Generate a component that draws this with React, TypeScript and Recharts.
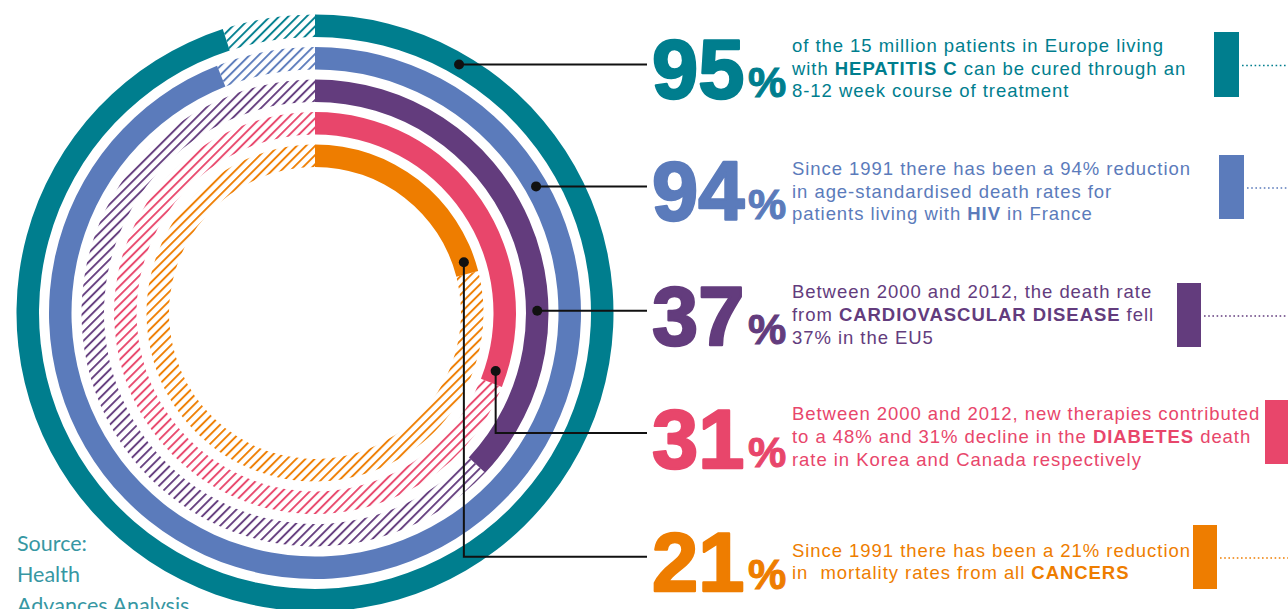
import { RadialBarChart, RadialBar, PolarAngleAxis, PolarRadiusAxis, Cell } from 'recharts';

// rings, inner to outer
const categories = ['CANCERS', 'DIABETES', 'CARDIOVASCULAR DISEASE', 'HIV', 'HEPATITIS C'];
const percents = [21, 31, 37, 94, 95];
const colors = ['#EE7D00', '#E8466B', '#633C7D', '#5B7BBB', '#007E8E'];

// text blocks, top to bottom (ring index each refers to)
const blockRing = [4, 3, 2, 1, 0];
const blockLines = [
  ['of the 15 million patients in Europe living', 'with **HEPATITIS C** can be cured through an', '8-12 week course of treatment'],
  ['Since 1991 there has been a 94% reduction', 'in age-standardised death rates for', 'patients living with **HIV** in France'],
  ['Between 2000 and 2012, the death rate', 'from **CARDIOVASCULAR DISEASE** fell', '37% in the EU5'],
  ['Between 2000 and 2012, new therapies contributed', 'to a 48% and 31% decline in the **DIABETES** death', 'rate in Korea and Canada respectively'],
  ['Since 1991 there has been a 21% reduction', 'in  mortality rates from all **CANCERS**'],
];
const sourceLines = ['Source:', 'Health', 'Advances Analysis'];

const data = categories.map((name, i) => ({ name, value: percents[i], rest: 100 - percents[i] }));

const CX = 315;
const CY = 313;
const INNER = 141;
const BAND = 32.5;
const BAR = 22.5;

// layout of annotation rows
const numBase = [98.3, 220, 345, 468, 590.7];
const textBase = [
  [52.3, 74.5, 96.7],
  [175, 197.5, 220],
  [298, 321, 343.5],
  [420, 443, 466],
  [556.7, 579.3],
];
const dotAngle = [30.1, 60.2, 89.4, 107.8, 71.2];
const leaderY = [65, 186, 310.7, 433, 556.7];
const rects = [
  { x: 1214, y: 32, w: 25, h: 65 },
  { x: 1219, y: 155, w: 25, h: 64 },
  { x: 1177, y: 283, w: 24, h: 64 },
  { x: 1265, y: 400, w: 24, h: 64 },
  { x: 1193, y: 525, w: 24, h: 64 },
];

const FONT = '"Liberation Sans", Arial, sans-serif';

function renderLine(line: string) {
  const parts = line.split('**');
  return parts.map((p, i) => (
    <tspan key={i} fontWeight={i % 2 === 1 ? 700 : 400}>
      {p}
    </tspan>
  ));
}

export default function App() {
  return (
    <div style={{ position: 'absolute', left: 0, top: 0, width: 1288, height: 609, overflow: 'hidden', background: '#fff' }}>
      <svg width={0} height={0} style={{ position: 'absolute' }}>
        <defs>
          {colors.map((c, i) => (
            <pattern key={i} id={`hatch-${i}`} patternUnits="userSpaceOnUse" width={6.5} height={6.5} patternTransform="rotate(45)">
              <line x1={1} y1={0} x2={1} y2={6.5} stroke={c} strokeWidth={1.9} />
            </pattern>
          ))}
        </defs>
      </svg>
      <RadialBarChart
        width={1288}
        height={609}
        cx={CX}
        cy={CY}
        innerRadius={INNER}
        outerRadius={INNER + BAND * categories.length}
        startAngle={90}
        endAngle={-270}
        data={data}
        barSize={BAR}
        margin={{ top: 0, right: 0, bottom: 0, left: 0 }}
      >
        <PolarAngleAxis type="number" domain={[0, 100]} tick={false} axisLine={false} />
        <PolarRadiusAxis type="category" dataKey="name" tick={false} axisLine={false} />
        <RadialBar dataKey="value" stackId="a" isAnimationActive={false} stroke="none">
          {data.map((d, i) => (
            <Cell key={d.name} fill={colors[i]} />
          ))}
        </RadialBar>
        <RadialBar dataKey="rest" stackId="a" isAnimationActive={false} stroke="none">
          {data.map((d, i) => (
            <Cell key={d.name} fill={`url(#hatch-${i})`} />
          ))}
        </RadialBar>
      </RadialBarChart>
      <svg width={1288} height={609} style={{ position: 'absolute', left: 0, top: 0, pointerEvents: 'none' }}>
        {blockRing.map((ring, b) => {
          const r = INNER + BAND * ring + BAND / 2;
          const a = (dotAngle[b] * Math.PI) / 180;
          const dx = CX + r * Math.sin(a);
          const dy = CY - r * Math.cos(a);
          const ly = leaderY[b];
          const path = Math.abs(dy - ly) < 1.5 ? `M${dx},${dy} H647` : `M${dx},${dy} V${ly} H647`;
          const color = colors[ring];
          const rc = rects[b];
          return (
            <g key={b}>
              <path d={path} stroke="#111" strokeWidth={2} fill="none" />
              <circle cx={dx} cy={dy} r={5} fill="#111" />
              <text
                x={652}
                y={numBase[b]}
                fill={color}
                stroke={color}
                strokeWidth={2.4}
                strokeLinejoin="round"
                fontFamily={FONT}
                fontWeight={700}
                fontSize={83}
              >
                {percents[ring]}
              </text>
              <text
                x={748}
                y={numBase[b] - 1.5}
                fill={color}
                stroke={color}
                strokeWidth={1}
                fontFamily={'"Liberation Sans Narrow", ' + FONT}
                fontWeight={700}
                fontSize={43}
              >
                %
              </text>
              {blockLines[b].map((ln, k) => (
                <text
                  key={k}
                  x={792}
                  y={textBase[b][k]}
                  fill={color}
                  fontFamily={FONT}
                  fontSize={18.5}
                  style={{ whiteSpace: 'pre', letterSpacing: 0.95 }}
                >
                  {renderLine(ln)}
                </text>
              ))}
              <rect x={rc.x} y={rc.y} width={rc.w} height={rc.h} fill={color} />
              {rc.x + rc.w < 1280 && (
                <line
                  x1={rc.x + rc.w + 3}
                  x2={1288}
                  y1={rc.y + rc.h / 2 + 1}
                  y2={rc.y + rc.h / 2 + 1}
                  stroke={color}
                  strokeWidth={1.6}
                  strokeDasharray="1.6 2.6"
                />
              )}
            </g>
          );
        })}
        {sourceLines.map((s, i) => (
          <text key={s} x={17} y={550.7 + i * 31} fill="#3797A3" fontFamily="Lato, sans-serif" fontSize={21.5}>
            {s}
          </text>
        ))}
      </svg>
    </div>
  );
}
